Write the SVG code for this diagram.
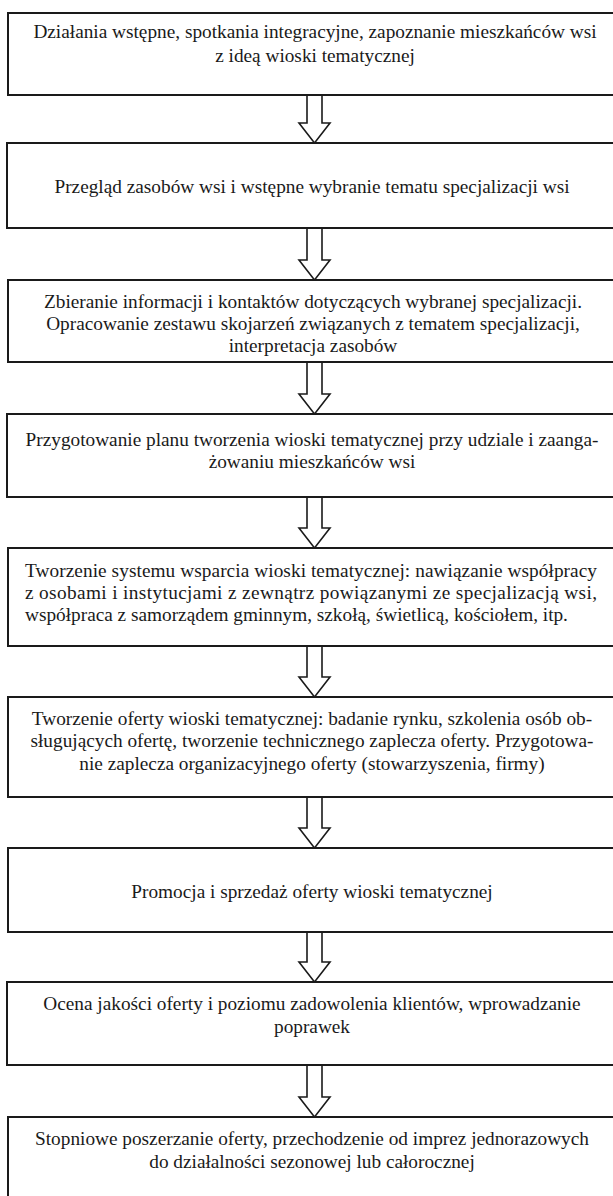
<svg xmlns="http://www.w3.org/2000/svg" width="613" height="1196" viewBox="0 0 613 1196" font-family="Liberation Serif, Times New Roman, Times, DejaVu Serif, serif">
<style>
.box{fill:#fff;stroke:#1a1a1a;stroke-width:2}
.arr{fill:#fff;stroke:#1a1a1a;stroke-width:1.6;stroke-linejoin:miter}
.t{font-family:'Liberation Serif','Times New Roman',Times,'DejaVu Serif',serif;font-size:19.3px;fill:#1a1a1a}
.c{text-anchor:middle}
</style>
<rect width="613" height="1196" fill="#fff"/>
<g id="connectors">
<path class="arr" d="M307,95 V123 H299 L314.5,143 L330,123 H322 V95"/>
<path class="arr" d="M307,228 V260 H299 L314.5,280 L330,260 H322 V228"/>
<path class="arr" d="M307,362 V394 H299 L314.5,414 L330,394 H322 V362"/>
<path class="arr" d="M307,497 V528 H299 L314.5,548 L330,528 H322 V497"/>
<path class="arr" d="M307,646 V677 H299 L314.5,697 L330,677 H322 V646"/>
<path class="arr" d="M307,797 V828 H299 L314.5,848 L330,828 H322 V797"/>
<path class="arr" d="M307,932 V962 H299 L314.5,982 L330,962 H322 V932"/>
<path class="arr" d="M307,1065 V1097 H299 L314.5,1117 L330,1097 H322 V1065"/>
</g>
<g id="n1" class="t">
<rect class="box" x="8" y="13" width="620" height="82"/>
<text class="c" x="315" y="38">Działania wstępne, spotkania integracyjne, zapoznanie mieszkańców wsi</text>
<text class="c" x="315" y="62">z ideą wioski tematycznej</text>
</g>
<g id="n2" class="t">
<rect class="box" x="7" y="143" width="620" height="85"/>
<text class="c" x="312" y="193">Przegląd zasobów wsi i wstępne wybranie tematu specjalizacji wsi</text>
</g>
<g id="n3" class="t">
<rect class="box" x="8" y="280" width="620" height="82"/>
<text class="c" x="313" y="308">Zbieranie informacji i kontaktów dotyczących wybranej specjalizacji.</text>
<text class="c" x="313" y="330">Opracowanie zestawu skojarzeń związanych z tematem specjalizacji,</text>
<text class="c" x="313" y="352">interpretacja zasobów</text>
</g>
<g id="n4" class="t">
<rect class="box" x="7" y="414" width="620" height="83"/>
<text class="c" x="312" y="446">Przygotowanie planu tworzenia wioski tematycznej przy udziale i zaanga-</text>
<text class="c" x="312" y="468">żowaniu mieszkańców wsi</text>
</g>
<g id="n5" class="t">
<rect class="box" x="8" y="548" width="620" height="98"/>
<text x="25" y="577" textLength="572" lengthAdjust="spacing">Tworzenie systemu wsparcia wioski tematycznej: nawiązanie współpracy</text>
<text x="25" y="599" textLength="572" lengthAdjust="spacing">z osobami i instytucjami z zewnątrz powiązanymi ze specjalizacją wsi,</text>
<text x="25" y="621">współpraca z samorządem gminnym, szkołą, świetlicą, kościołem, itp.</text>
</g>
<g id="n6" class="t">
<rect class="box" x="8" y="697" width="620" height="100"/>
<text class="c" x="312" y="725">Tworzenie oferty wioski tematycznej: badanie rynku, szkolenia osób ob-</text>
<text class="c" x="312" y="747">sługujących ofertę, tworzenie technicznego zaplecza oferty. Przygotowa-</text>
<text class="c" x="312" y="770">nie zaplecza organizacyjnego oferty (stowarzyszenia, firmy)</text>
</g>
<g id="n7" class="t">
<rect class="box" x="8" y="848" width="620" height="84"/>
<text class="c" x="312" y="898">Promocja i sprzedaż oferty wioski tematycznej</text>
</g>
<g id="n8" class="t">
<rect class="box" x="7" y="982" width="620" height="83"/>
<text class="c" x="312" y="1010">Ocena jakości oferty i poziomu zadowolenia klientów, wprowadzanie</text>
<text class="c" x="312" y="1033">poprawek</text>
</g>
<g id="n9" class="t">
<rect class="box" x="8" y="1117" width="620" height="100"/>
<text class="c" x="312" y="1145">Stopniowe poszerzanie oferty, przechodzenie od imprez jednorazowych</text>
<text class="c" x="312" y="1168">do działalności sezonowej lub całorocznej</text>
</g>
</svg>
